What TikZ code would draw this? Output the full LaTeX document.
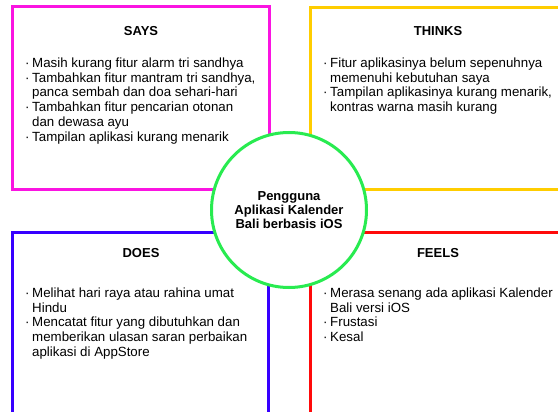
\documentclass[tikz,border=0pt]{standalone}
\usepackage{fontspec}
\setmainfont{Liberation Sans}

\definecolor{saysmag}{RGB}{250,20,225}
\definecolor{thinksyel}{RGB}{255,205,0}
\definecolor{doesblue}{RGB}{55,0,255}
\definecolor{feelsred}{RGB}{255,10,10}
\definecolor{usergreen}{RGB}{40,235,80}

\newcommand{\bul}{\makebox[7pt][l]{·}}
\newcommand{\cont}{\hspace*{7pt}}

\begin{document}
\begin{tikzpicture}[x=1pt,y=-1pt,
        quad/.style={draw,line width=3pt},
        head/.style={font=\fontsize{13}{15}\selectfont\bfseries},
        items/.style={anchor=north west,align=left,inner sep=0pt,
            font=\fontsize{13.3}{14.8}\selectfont}]
        \clip (0,0) rectangle (558,412);
        \fill[white] (0,0) rectangle (558,412);

        % quadrants
        \path[quad,draw=saysmag] (12,7) rectangle (269,190);
        \path[quad,draw=thinksyel] (310,8) rectangle (568,190);
        \path[quad,draw=doesblue] (12,232) rectangle (268,420);
        \path[quad,draw=feelsred] (310,232) rectangle (568,420);

        \node[head] (says) at (141,31) {SAYS};
        \node[head] (thinks) at (438,31) {THINKS};
        \node[head] (does) at (141,253) {DOES};
        \node[head] (feels) at (438,253) {FEELS};

        \node[items] (sayslist) at (25,57.5) {\bul Masih kurang fitur alarm tri sandhya\\
            \bul Tambahkan fitur mantram tri sandhya,\\
            \cont panca sembah dan doa sehari-hari\\
            \bul Tambahkan fitur pencarian otonan\\
            \cont dan dewasa ayu\\
            \bul Tampilan aplikasi kurang menarik};
        \node[items] (thinkslist) at (323,57.5) {\bul Fitur aplikasinya belum sepenuhnya\\
            \cont memenuhi kebutuhan saya\\
            \bul Tampilan aplikasinya kurang menarik,\\
            \cont kontras warna masih kurang};
        \node[items] (doeslist) at (25,287.5) {\bul Melihat hari raya atau rahina umat\\
            \cont Hindu\\
            \bul Mencatat fitur yang dibutuhkan dan\\
            \cont memberikan ulasan saran perbaikan\\
            \cont aplikasi di AppStore};
        \node[items] (feelslist) at (323,287.5) {\bul Merasa senang ada aplikasi Kalender\\
            \cont Bali versi iOS\\
            \bul Frustasi\\
            \bul Kesal};

        % user in the middle
        \node[circle,draw=usergreen,line width=3pt,fill=white,minimum size=155pt,
            align=center,font=\fontsize{13}{14}\selectfont\bfseries]
            (user) at (289,210) {Pengguna\\Aplikasi Kalender\\Bali berbasis iOS};
\end{tikzpicture}
\end{document}
